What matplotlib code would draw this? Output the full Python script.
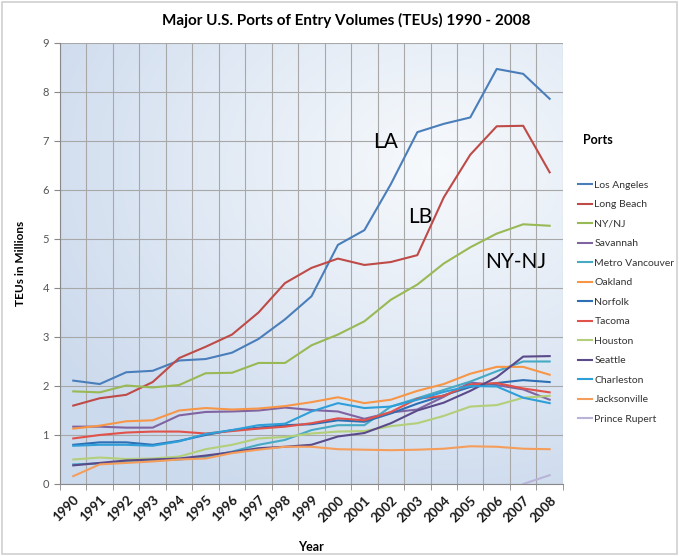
import numpy as np
import matplotlib
matplotlib.use('Agg')
import matplotlib.pyplot as plt
from matplotlib.patches import Rectangle

plt.rcParams['font.family'] = ['Lato', 'DejaVu Sans']

years = list(range(1990, 2009))
year_labels = [str(y) for y in years]

# TEUs in millions
los_angeles = [2.11, 2.04, 2.28, 2.31, 2.52, 2.55, 2.68, 2.96, 3.36, 3.83, 4.88, 5.18, 6.12, 7.18, 7.35, 7.48, 8.47, 8.37, 7.86]
long_beach = [1.60, 1.75, 1.82, 2.08, 2.57, 2.80, 3.05, 3.50, 4.10, 4.41, 4.60, 4.47, 4.53, 4.67, 5.85, 6.72, 7.30, 7.31, 6.36]
ny_nj = [1.89, 1.87, 2.01, 1.97, 2.02, 2.26, 2.27, 2.47, 2.47, 2.83, 3.05, 3.32, 3.76, 4.07, 4.50, 4.83, 5.11, 5.30, 5.27]
savannah = [1.17, 1.17, 1.15, 1.15, 1.40, 1.47, 1.48, 1.50, 1.56, 1.51, 1.48, 1.33, 1.46, 1.52, 1.78, 2.07, 2.02, 1.93, 1.72]
metro_vancouver = [0.40, 0.42, 0.45, 0.48, 0.50, 0.55, 0.66, 0.80, 0.90, 1.10, 1.20, 1.20, 1.58, 1.75, 1.92, 2.09, 2.30, 2.50, 2.50]
oakland = [1.13, 1.19, 1.28, 1.30, 1.50, 1.55, 1.52, 1.54, 1.59, 1.67, 1.77, 1.65, 1.72, 1.90, 2.04, 2.25, 2.39, 2.39, 2.23]
norfolk = [0.80, 0.85, 0.85, 0.80, 0.88, 1.00, 1.10, 1.15, 1.20, 1.22, 1.30, 1.27, 1.44, 1.64, 1.81, 1.98, 2.06, 2.12, 2.08]
tacoma = [0.93, 1.00, 1.05, 1.07, 1.07, 1.03, 1.08, 1.13, 1.17, 1.24, 1.34, 1.30, 1.47, 1.74, 1.80, 2.03, 2.06, 1.95, 1.87]
houston = [0.50, 0.54, 0.51, 0.52, 0.56, 0.71, 0.80, 0.93, 0.96, 1.03, 1.07, 1.08, 1.18, 1.24, 1.39, 1.58, 1.61, 1.76, 1.80]
seattle = [0.38, 0.43, 0.48, 0.50, 0.52, 0.58, 0.65, 0.73, 0.76, 0.80, 0.97, 1.04, 1.24, 1.50, 1.66, 1.90, 2.18, 2.60, 2.61]
charleston = [0.78, 0.80, 0.80, 0.78, 0.87, 1.02, 1.10, 1.20, 1.23, 1.48, 1.65, 1.55, 1.58, 1.72, 1.88, 2.00, 1.99, 1.76, 1.65]
jacksonville = [0.16, 0.40, 0.43, 0.46, 0.50, 0.52, 0.63, 0.70, 0.76, 0.76, 0.71, 0.70, 0.69, 0.70, 0.72, 0.77, 0.76, 0.72, 0.71]
prince_rupert = [np.nan] * 17 + [0.00, 0.18]

ports = ['Los Angeles', 'Long Beach', 'NY/NJ', 'Savannah', 'Metro Vancouver', 'Oakland',
         'Norfolk', 'Tacoma', 'Houston', 'Seattle', 'Charleston', 'Jacksonville', 'Prince Rupert']
series = [los_angeles, long_beach, ny_nj, savannah, metro_vancouver, oakland,
          norfolk, tacoma, houston, seattle, charleston, jacksonville, prince_rupert]
colors = ['#4A7EBB', '#BE4B48', '#98B954', '#8064A2', '#46AAC5', '#F79646',
          '#2C6FB5', '#E0524A', '#B3CF7A', '#5A4A8A', '#2E9FD9', '#F59D5B', '#B9B4D7']

fig = plt.figure(figsize=(6.79, 5.56), dpi=100)
ax = fig.add_axes([0.0884, 0.1295, 0.7406, 0.7932])

# plot area gradient, whitish top right to light blue edges
gx, gy = np.meshgrid(np.linspace(0, 1, 200), np.linspace(1, 0, 200))
d = np.sqrt((gx - 0.75) ** 2 + ((gy - 0.72) * 1.1) ** 2)
t = np.clip(d / 0.9, 0, 1)[..., None]
light = np.array([0.97, 0.98, 0.99])
blue = np.array([0.80, 0.855, 0.93])
grad = light * (1 - t) + blue * t
ax.imshow(grad, extent=[0, 1, 0, 1], transform=ax.transAxes, aspect='auto', zorder=0)

x = np.arange(len(years))
for name, vals, c in zip(ports, series, colors):
    ax.plot(x, vals, color=c, lw=1.5, label=name, zorder=3)

ax.set_xlim(-0.5, len(years) - 0.5)
ax.set_ylim(0, 9)
ax.set_yticks(range(0, 10))
ax.set_xticks(x)
ax.set_xticklabels(year_labels, rotation=45, ha='right', rotation_mode='anchor',
                   fontsize=9.5, fontweight='bold', color='#1a1a1a')
ax.set_xticks(np.arange(-0.5, len(years)), minor=True)
ax.tick_params(axis='x', which='major', length=0, pad=7)
ax.tick_params(axis='x', which='minor', length=4, color='#888888')
ax.tick_params(axis='y', length=4, color='#888888', labelsize=8, labelcolor='#555555', pad=4)
ax.grid(True, axis='y', color='#A8A8A8', lw=0.8, zorder=1)
ax.grid(True, axis='x', which='minor', color='#A8A8A8', lw=0.8, zorder=1)
for s in ['top', 'right']:
    ax.spines[s].set_visible(False)
ax.spines['left'].set_color('#888888')
ax.spines['bottom'].set_color('#888888')

ax.set_ylabel('TEUs in Millions', fontsize=8.5, fontweight='bold', labelpad=12)
ax.set_xlabel('Year', fontsize=9, fontweight='bold', labelpad=12)
fig.text(0.51, 0.963, 'Major U.S. Ports of Entry Volumes (TEUs) 1990 - 2008',
         ha='center', va='center', fontsize=11, fontweight='bold')

ax.text(11.8, 6.97, 'LA', fontsize=15, ha='center', va='center', zorder=4)
ax.text(13.1, 5.44, 'LB', fontsize=15, ha='center', va='center', zorder=4)
ax.text(16.7, 4.54, 'NY-NJ', fontsize=15, ha='center', va='center', zorder=4)

fig.text(0.8586, 0.748, 'Ports', fontsize=9, fontweight='bold', va='center')
fig.legend(loc='upper left', bbox_to_anchor=(0.851, 0.675), frameon=False,
           fontsize=7.5, handlelength=1.35, handletextpad=0.25, labelspacing=0.98,
           borderpad=0, borderaxespad=0, labelcolor='#333333')

fig.patches.append(Rectangle((0.003, 0.003), 0.994, 0.994, transform=fig.transFigure,
                             fill=False, edgecolor='#D0D0D0', lw=1.2))

fig.savefig('out.png', dpi=100)
